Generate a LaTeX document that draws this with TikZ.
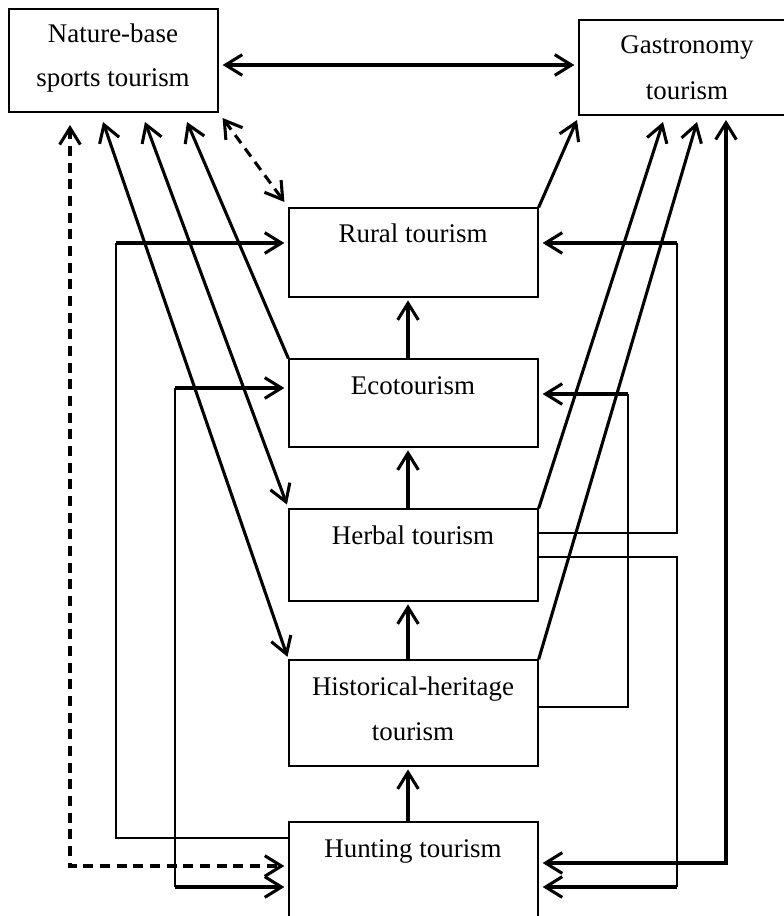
\documentclass[tikz,border=0pt]{standalone}
\usepackage{fontspec}
\setmainfont{Liberation Serif}
\usetikzlibrary{arrows.meta,fit}
\begin{document}
\begin{tikzpicture}[x=0.75pt,y=-0.75pt,
  box/.style={draw, line width=1pt, inner sep=0pt},
  lbl/.style={anchor=base, inner sep=0pt, font=\fontsize{20.2}{24}\selectfont},
  tip/.style={-{Straight Barb[length=12.5pt,width=15.5pt]}},
  both/.style={{Straight Barb[length=12.5pt,width=15.5pt]}-{Straight Barb[length=12.5pt,width=15.5pt]}},
  thk/.style={line width=2.3pt},
  thn/.style={line width=1.2pt},
  dsh/.style={dash pattern=on 7.5pt off 5pt}]
\useasboundingbox (0,0) rectangle (784,916);
\clip (0,0) rectangle (784,916);
% boxes
\node[box, fit={(9,9) (218,112)}] (nat) {};
\node[box, fit={(579,20) (800,115)}] (gas) {};
\node[box, fit={(289,208) (538,297)}] (rur) {};
\node[box, fit={(289,359) (538,447)}] (eco) {};
\node[box, fit={(289,509) (538,601)}] (her) {};
\node[box, fit={(289,660) (538,766)}] (his) {};
\node[box, fit={(289,822) (538,940)}] (hun) {};
% labels
\node[lbl] (natA) at (113,43) {Nature-base};
\node[lbl] (natB) at (113,87) {sports tourism};
\node[lbl] (gasA) at (687,54) {Gastronomy};
\node[lbl] (gasB) at (687,100) {tourism};
\node[lbl] (rurT) at (413,243) {Rural tourism};
\node[lbl] (ecoT) at (413,394) {Ecotourism};
\node[lbl] (herT) at (413,544) {Herbal tourism};
\node[lbl] (hisA) at (413,695) {Historical-heritage};
\node[lbl] (hisB) at (413,740) {tourism};
\node[lbl] (hunT) at (413,857) {Hunting tourism};
% free ends
\coordinate (n0) at (70,125);
\coordinate (n1) at (103,122);
\coordinate (n2) at (145,122);
\coordinate (n3) at (187,122);
\coordinate (g1) at (577,120);
\coordinate (g2) at (663,122);
\coordinate (g3) at (697,122);
\coordinate (g4) at (726,120);
% top double arrow
\draw[thk,both,shorten <=3pt,shorten >=3pt] (nat.east |- 0,65) -- (gas.west |- 0,65);
% dashed
\draw[thk,dsh,both,shorten <=5pt,shorten >=5pt] (nat.south east) -- (rur.north west);
\draw[thk,dsh,both,shorten >=3pt] (n0) -- (70,866) -- (hun.west |- 0,866);
% diagonals to nature
\draw[thk,both,shorten >=2pt] (n1) -- (his.north west);
\draw[thk,both,shorten >=3pt] (n2) -- (her.north west);
\draw[thk,tip] (eco.north west) -- (n3);
% diagonals to gastronomy
\draw[thk,tip] (rur.north east) -- (g1);
\draw[thk,tip] (her.north east) -- (g2);
\draw[thk,tip] (his.north east) -- (g3);
\draw[thk,both,shorten <=3pt] (hun.east |- 0,863) -- (726,863) -- (g4);
% right elbows
\draw[thn] (her.east |- 0,557) -- (677,557) -- (677,887);
\draw[thk,tip,shorten >=3pt] (677,887) -- (hun.east |- 0,887);
\draw[thn] (her.east |- 0,533) -- (677,533) -- (677,243);
\draw[thk,tip,shorten >=3pt] (677,243) -- (rur.east |- 0,243);
\draw[thn] (his.east |- 0,707) -- (628,707) -- (628,394);
\draw[thk,tip,shorten >=3pt] (628,394) -- (eco.east |- 0,394);
% left elbows
\draw[thn] (hun.west |- 0,838) -- (116,838) -- (116,243);
\draw[thk,tip,shorten >=3pt] (116,243) -- (rur.west |- 0,243);
\draw[thn] (175,388) -- (175,887);
\draw[thk,tip,shorten >=3pt] (175,388) -- (eco.west |- 0,388);
\draw[thk,tip,shorten >=3pt] (175,887) -- (hun.west |- 0,887);
% vertical chain
\draw[thk,tip,shorten >=2pt] (eco.north -| 408,0) -- (rur.south -| 408,0);
\draw[thk,tip,shorten >=2pt] (her.north -| 408,0) -- (eco.south -| 408,0);
\draw[thk,tip,shorten >=2pt] (his.north -| 408,0) -- (her.south -| 408,0);
\draw[thk,tip,shorten >=2pt] (hun.north -| 408,0) -- (his.south -| 408,0);
\end{tikzpicture}
\end{document}
